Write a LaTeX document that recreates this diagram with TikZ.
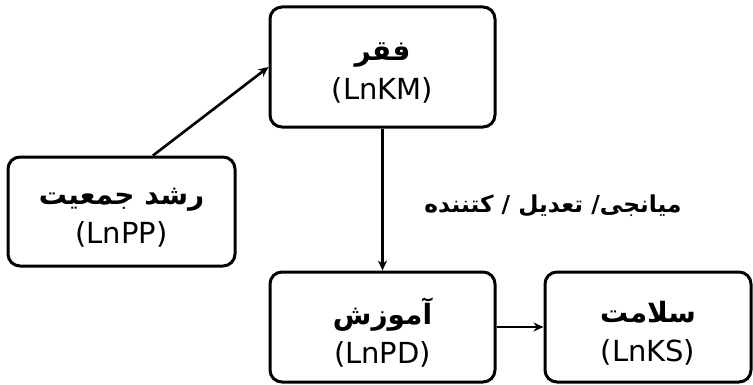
\documentclass[tikz,border=0pt]{standalone}
\usepackage{fontspec}
\setmainfont{DejaVu Sans}
\newfontfamily\pfont[Script=Arabic]{DejaVu Sans}
\TeXXeTstate=1
\usetikzlibrary{arrows.meta}
\tikzset{
  box/.style={draw=black, line width=3pt, rounded corners=12pt, fill=white,
    align=center, inner sep=0pt, font=\fontsize{29}{39}\selectfont},
  conn/.style={line width=2.6pt, -{Stealth[length=10pt,width=9pt]}},
}
\newcommand{\fa}[1]{{\fontsize{28}{39}\selectfont\pfont\bfseries\beginR #1\endR}}
\newcommand{\twoline}[2]{\raisebox{-6pt}[\height][\depth]{\parbox{200pt}{\centering\fa{#1}\\#2}}}
\begin{document}
\begin{tikzpicture}[x=1pt,y=1pt]
\useasboundingbox[fill=white] (0,0) rectangle (753,384);
\node[box, minimum width=225pt, minimum height=120pt] (faqr) at (382.5,317) {\twoline{فقر}{(LnKM)}};
\node[box, minimum width=227pt, minimum height=109pt] (rosh) at (121.5,172.5) {\twoline{رشد جمعیت}{(LnPP)}};
\node[box, minimum width=225pt, minimum height=110pt] (amuz) at (382.5,57) {\twoline{آموزش}{(LnPD)}};
\node[box, minimum width=206pt, minimum height=110pt] (salm) at (648,57) {\twoline{سلامت}{(LnKS)}};
\node[inner sep=0pt, font=\fontsize{23.3}{28}\selectfont\pfont\bfseries] (lab) at (553,178) {\beginR میانجی/ تعدیل / کتننده\endR};
\draw[conn] ([xshift=31.5pt]rosh.north) -- (faqr.west);
\draw[conn] (faqr.south) -- (amuz.north);
\draw[conn] (amuz.east) -- (salm.west);
\end{tikzpicture}
\end{document}
